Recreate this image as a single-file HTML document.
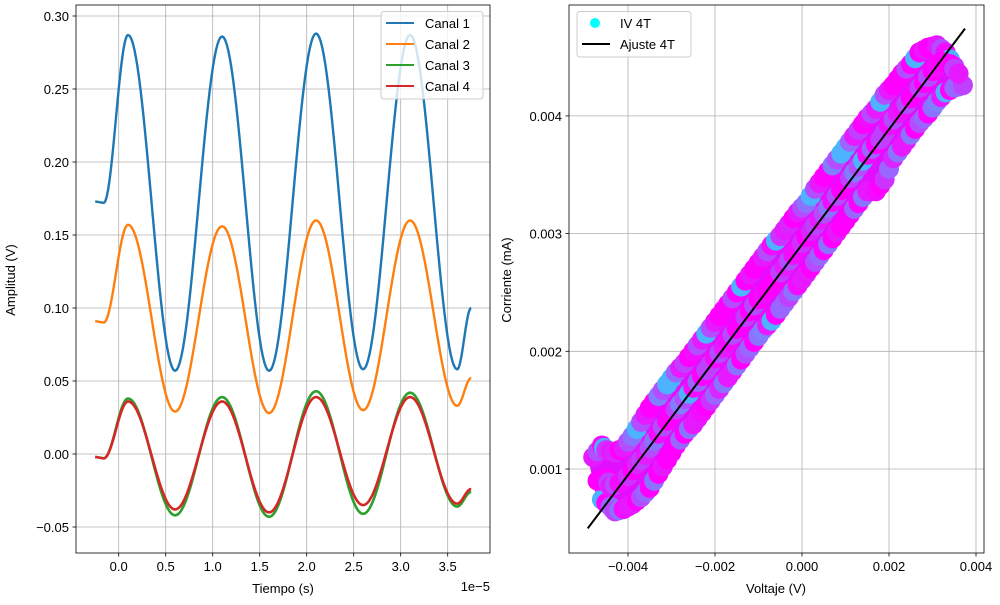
<!DOCTYPE html>
<html><head><meta charset="utf-8"><style>
body{margin:0;background:#fff;}
svg{font-family:"Liberation Sans","DejaVu Sans",sans-serif;}
</style></head><body>
<svg id="fig" width="1000" height="600" xmlns="http://www.w3.org/2000/svg">
<rect width="1000" height="600" fill="#fff"/>
<g id="left"></g>
<g id="right"></g>
</svg>
<script>
// ---- Left chart data ----
const keyTimes = [-0.25,-0.16,0.1,0.6,1.1,1.6,2.1,2.6,3.1,3.6,3.75];
const canal1 = [0.173,0.172,0.287,0.057,0.286,0.057,0.288,0.058,0.287,0.058,0.100];
const canal2 = [0.091,0.090,0.157,0.029,0.156,0.028,0.160,0.030,0.160,0.033,0.052];
const canal3 = [-0.002,-0.003,0.038,-0.042,0.039,-0.043,0.043,-0.041,0.042,-0.036,-0.026];
const canal4 = [-0.002,-0.003,0.036,-0.038,0.036,-0.040,0.039,-0.035,0.039,-0.034,-0.024];
const leftXTicks = [0.0,0.5,1.0,1.5,2.0,2.5,3.0,3.5];
const leftYTicks = [-0.05,0.00,0.05,0.10,0.15,0.20,0.25,0.30];
const seriesNames = ["Canal 1","Canal 2","Canal 3","Canal 4"];
// ---- Right chart data ----
const voltage = [-0.0047,-0.0045,-0.0044,-0.0042,-0.0040,-0.0038,-0.0036,-0.0034,-0.0032,-0.0030,-0.0028,-0.0026,-0.0024,-0.0022,-0.0020,-0.0018,-0.0016,-0.0014,-0.0012,-0.0010,-0.0008,-0.0006,-0.0004,-0.0002,0.0000,0.0002,0.0004,0.0006,0.0008,0.0010,0.0012,0.0014,0.0016,0.0018,0.0020,0.0022,0.0024,0.0026,0.0028,0.0030,0.0032,0.0034,0.0036];
const currentMid = [0.00090,0.00092,0.00085,0.00088,0.00094,0.00104,0.00112,0.00124,0.00136,0.00146,0.00155,0.00164,0.00174,0.00184,0.00194,0.00203,0.00214,0.00224,0.00234,0.00244,0.00253,0.00262,0.00272,0.00282,0.00292,0.00302,0.00312,0.00322,0.00332,0.00342,0.00352,0.00362,0.00372,0.00380,0.00392,0.00402,0.00410,0.00420,0.00428,0.00438,0.00446,0.00444,0.00436];
const currentHigh = [0.00110,0.00120,0.00116,0.00114,0.00118,0.00128,0.00140,0.00152,0.00162,0.00172,0.00182,0.00190,0.00200,0.00210,0.00220,0.00230,0.00240,0.00250,0.00260,0.00270,0.00280,0.00290,0.00298,0.00308,0.00318,0.00326,0.00338,0.00348,0.00358,0.00368,0.00378,0.00388,0.00398,0.00406,0.00418,0.00426,0.00436,0.00444,0.00454,0.00458,0.00460,0.00454,0.00442];
const currentLow = [0.00074,0.00068,0.00064,0.00066,0.00070,0.00076,0.00084,0.00096,0.00108,0.00120,0.00130,0.00138,0.00148,0.00158,0.00168,0.00178,0.00188,0.00198,0.00208,0.00218,0.00226,0.00236,0.00246,0.00256,0.00266,0.00276,0.00286,0.00296,0.00306,0.00316,0.00326,0.00336,0.00336,0.00346,0.00364,0.00374,0.00384,0.00394,0.00402,0.00412,0.00420,0.00424,0.00426];
const colorLevels = [0.9,1.0,0.7,0.95,0.5,1.0,0.8,0.3,1.0,0.85,0.6,1.0,0.9,0.75,1.0,0.55,0.95,1.0,0.7,0.9];
const fitSlope = 0.4896, fitIntercept = 0.002907, fitRange = [-0.004926,0.003747];
const rightXTicks = [-0.004,-0.002,0.000,0.002,0.004];
const rightYTicks = [0.001,0.002,0.003,0.004];

const NS="http://www.w3.org/2000/svg";
function mk(parent,tag,attrs,text){const e=document.createElementNS(NS,tag);for(const k in attrs)e.setAttribute(k,attrs[k]);if(text!==undefined)e.textContent=text;parent.appendChild(e);return e;}

// ---- Left chart ----
const L=document.getElementById('left');
const lx=v=>118.7+v*94.0, ly=v=>454-v/0.05*73.0;
const LX0=76,LX1=490,LY0=5,LY1=553;
leftXTicks.forEach(t=>{
 const g=mk(L,'line',{x1:lx(t),x2:lx(t),y1:LY0,y2:LY1,stroke:'#b0b0b0','stroke-width':0.8});
 
 mk(L,'line',{x1:lx(t),x2:lx(t),y1:LY1,y2:LY1+3.5,stroke:'#000','stroke-width':0.8});
 const tl=mk(L,'text',{x:lx(t),y:LY1+18,'font-size':13,'text-anchor':'middle'},t.toFixed(1));
 
});
leftYTicks.forEach(t=>{
 const g=mk(L,'line',{x1:LX0,x2:LX1,y1:ly(t),y2:ly(t),stroke:'#b0b0b0','stroke-width':0.8});
 
 mk(L,'line',{x1:LX0-3.5,x2:LX0,y1:ly(t),y2:ly(t),stroke:'#000','stroke-width':0.8});
 const tl=mk(L,'text',{x:LX0-7,y:ly(t)+5,'font-size':13,'text-anchor':'end'},t<0?'\u2212'+Math.abs(t).toFixed(2):t.toFixed(2));
 
});
const colors=['#1f77b4','#ff7f0e','#2ca02c','#d62728'];
[canal1,canal2,canal3,canal4].forEach((vals,si)=>{
 let d='';
 for(let i=0;i<keyTimes.length-1;i++){
  const n=i===0?2:30;
  for(let k=0;k<=n;k++){
   const f=k/n, w=(1-Math.cos(Math.PI*f))/2;
   const t=keyTimes[i]+(keyTimes[i+1]-keyTimes[i])*f;
   const v=vals[i]+(vals[i+1]-vals[i])*w;
   d+=(d?'L':'M')+lx(t).toFixed(2)+','+ly(v).toFixed(2);
  }
 }
 const p=mk(L,'path',{d:d,fill:'none',stroke:colors[si],'stroke-width':si>=2?2.6:2.4,'stroke-linejoin':'round'});
 
});
mk(L,'rect',{x:LX0,y:LY0,width:LX1-LX0,height:LY1-LY0,fill:'none',stroke:'#000','stroke-width':0.8});
let t1=mk(L,'text',{x:283,y:593,'font-size':13,'text-anchor':'middle'},'Tiempo (s)');

t1=mk(L,'text',{x:490,y:591,'font-size':13,'text-anchor':'end'},'1e\u22125');

t1=mk(L,'text',{x:15,y:280,'font-size':13,'text-anchor':'middle',transform:'rotate(-90 15 280)'},'Amplitud (V)');

const lg=mk(L,'g',{});

mk(lg,'rect',{x:381,y:11.5,width:102,height:87.5,rx:3,fill:'#fff','fill-opacity':0.8,stroke:'#ccc','stroke-width':1});
seriesNames.forEach((nm,i)=>{
 const y=23+i*21;
 const e=mk(lg,'g',{});
 
 mk(e,'line',{x1:386,x2:414,y1:y,y2:y,stroke:colors[i],'stroke-width':2});
 mk(e,'text',{x:425,y:y+5,'font-size':13},nm);
});

// ---- Right chart ----
const R=document.getElementById('right');
const rx=v=>802+v/0.001*43.5, ry=v=>469-(v-0.001)/0.001*117.7;
const RX0=569,RX1=984,RY0=5,RY1=553;
rightXTicks.forEach(t=>{
 const g=mk(R,'line',{x1:rx(t),x2:rx(t),y1:RY0,y2:RY1,stroke:'#b0b0b0','stroke-width':0.8});
 
 mk(R,'line',{x1:rx(t),x2:rx(t),y1:RY1,y2:RY1+3.5,stroke:'#000','stroke-width':0.8});
 const tl=mk(R,'text',{x:rx(t),y:RY1+18,'font-size':13,'text-anchor':'middle'},t<0?'\u2212'+Math.abs(t).toFixed(3):t.toFixed(3));
 
});
rightYTicks.forEach(t=>{
 const g=mk(R,'line',{x1:RX0,x2:RX1,y1:ry(t),y2:ry(t),stroke:'#b0b0b0','stroke-width':0.8});
 
 mk(R,'line',{x1:RX0-3.5,x2:RX0,y1:ry(t),y2:ry(t),stroke:'#000','stroke-width':0.8});
 const tl=mk(R,'text',{x:RX0-7,y:ry(t)+5,'font-size':13,'text-anchor':'end'},t.toFixed(3));
 
});
function cool(c){return 'rgb('+Math.round(255*c)+','+Math.round(255*(1-c))+',255)';}
const sg=mk(R,'g',{});

// band fill behind points
let bd='';
currentHigh.forEach((c,i)=>{bd+=(bd?'L':'M')+rx(voltage[i]-0.0001).toFixed(1)+','+ry(c).toFixed(1);});
for(let i=currentLow.length-1;i>=0;i--){bd+='L'+rx(voltage[i]+0.0001).toFixed(1)+','+ry(currentLow[i]).toFixed(1);}
const band=mk(sg,'path',{d:bd+'Z',fill:'#e010ff',stroke:'#e010ff','stroke-width':10,'stroke-linejoin':'round'});

[currentHigh,currentLow,currentMid].forEach((arr,si)=>{
 const off=si===0?-0.0001:(si===1?0.0001:0);
 arr.forEach((c,i)=>{
  const lvl=colorLevels[(i*3+si*7)%colorLevels.length];
  const x0=rx(voltage[i]+off), y0=ry(c);
  const pt=mk(sg,'circle',{cx:x0,cy:y0,r:10,fill:cool(lvl)});
  
  if(i<arr.length-1){
   const x1=rx(voltage[i+1]+off), y1=ry(arr[i+1]);
   const lvl2=colorLevels[(i*5+si*3+2)%colorLevels.length];
   const pm=mk(sg,'circle',{cx:(x0+x1)/2,cy:(y0+y1)/2,r:10,fill:cool(lvl2)});
   
  }
 });
});
const fl=mk(R,'line',{x1:rx(fitRange[0]),y1:ry(fitIntercept+fitSlope*fitRange[0]),x2:rx(fitRange[1]),y2:ry(fitIntercept+fitSlope*fitRange[1]),stroke:'#000','stroke-width':2});

mk(R,'rect',{x:RX0,y:RY0,width:RX1-RX0,height:RY1-RY0,fill:'none',stroke:'#000','stroke-width':0.8});
t1=mk(R,'text',{x:776,y:593,'font-size':13,'text-anchor':'middle'},'Voltaje (V)');

t1=mk(R,'text',{x:511,y:280,'font-size':13,'text-anchor':'middle',transform:'rotate(-90 511 280)'},'Corriente (mA)');

const rg=mk(R,'g',{});

mk(rg,'rect',{x:577,y:11.5,width:114,height:45.5,rx:3,fill:'#fff','fill-opacity':0.8,stroke:'#ccc','stroke-width':1});
let e=mk(rg,'g',{});

mk(e,'circle',{cx:595,cy:23,r:5,fill:'#00ffff'});
mk(e,'text',{x:620,y:28,'font-size':13},'IV 4T');
e=mk(rg,'g',{});

mk(e,'line',{x1:582,x2:610,y1:44,y2:44,stroke:'#000','stroke-width':2});
mk(e,'text',{x:620,y:49,'font-size':13},'Ajuste 4T');
</script>
</body></html>
